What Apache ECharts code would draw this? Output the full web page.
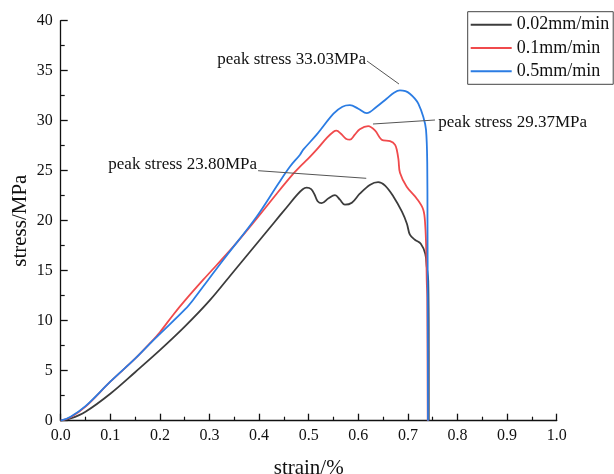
<!DOCTYPE html>
<html>
<head>
<meta charset="utf-8">
<script src="https://cdn.jsdelivr.net/npm/echarts@6/dist/echarts.min.js"></script>
<style>html,body{margin:0;padding:0;background:#fff}#c{width:614px;height:474px}</style>
</head>
<body>
<div id="c"></div>
<script>
var seriesNames = ['0.02mm/min', '0.1mm/min', '0.5mm/min'];
var seriesColors = ['#3c3c3c', '#f04a4c', '#2b7ce3'];
var xTicks = [0, 0.1, 0.2, 0.3, 0.4, 0.5, 0.6, 0.7, 0.8, 0.9, 1.0];
var yTicks = [0, 5, 10, 15, 20, 25, 30, 35, 40];

var s002 = [[0,0],[0.02,0.22],[0.05,0.9],[0.1,2.7],[0.15,4.85],[0.2,7.05],[0.25,9.4],[0.3,12.0],[0.35,15.0],[0.4,18.0],[0.43,19.8],[0.455,21.3],[0.476,22.55],[0.488,23.15],[0.496,23.3],[0.505,23.15],[0.512,22.6],[0.518,21.95],[0.526,21.75],[0.54,22.25],[0.553,22.55],[0.563,22.1],[0.573,21.6],[0.587,21.8],[0.603,22.7],[0.624,23.6],[0.64,23.85],[0.654,23.5],[0.671,22.4],[0.688,20.9],[0.698,19.7],[0.704,18.6],[0.714,18.1],[0.726,17.7],[0.735,16.7],[0.738,15.4],[0.741,14.0],[0.742,7],[0.742,0]];
var s01 = [[0,0],[0.02,0.35],[0.05,1.4],[0.1,3.9],[0.15,6.2],[0.18,7.75],[0.2,8.85],[0.227,10.6],[0.252,12.1],[0.2875,14.1],[0.348,17.4],[0.395,20.2],[0.4355,22.7],[0.469,24.7],[0.4825,25.4],[0.499,26.2],[0.516,27.1],[0.537,28.3],[0.55,28.9],[0.556,29.0],[0.565,28.7],[0.575,28.2],[0.583,28.1],[0.593,28.6],[0.603,29.15],[0.62,29.45],[0.634,29.0],[0.647,28.1],[0.664,27.95],[0.674,27.6],[0.678,27.0],[0.681,26.1],[0.684,24.8],[0.6976,23.4],[0.718,22.2],[0.731,21.1],[0.735,19.5],[0.737,17],[0.738,14.0],[0.739,12.3],[0.74,0]];
var s05 = [[0,0],[0.02,0.4],[0.05,1.45],[0.1,3.9],[0.15,6.2],[0.187,8.05],[0.2016,8.75],[0.252,11.2],[0.2673,12.1],[0.2976,14.1],[0.328,16.1],[0.395,20.4],[0.4387,23.7],[0.462,25.4],[0.4825,26.6],[0.489,27.1],[0.516,28.6],[0.55,30.7],[0.568,31.4],[0.583,31.55],[0.6,31.2],[0.617,30.75],[0.637,31.4],[0.657,32.2],[0.672,32.8],[0.684,33.03],[0.695,32.95],[0.704,32.7],[0.714,32.2],[0.721,31.7],[0.731,30.4],[0.7365,29.1],[0.739,25.7],[0.7395,20],[0.740,12],[0.7405,0]];

var annTexts = ['peak stress 33.03MPa', 'peak stress 29.37MPa', 'peak stress 23.80MPa'];
var annLines = [
  [[0.6175, 35.97], [0.682, 33.67]],
  [[0.6296, 29.67], [0.7546, 30.07]],
  [[0.398, 25.0], [0.616, 24.24]]
];

var font = "'Liberation Serif', 'Times New Roman', serif";
var chart = echarts.init(document.getElementById('c'));
var data = [s002, s01, s05];

var option = {
  animation: false,
  backgroundColor: '#fff',
  grid: { left: 60.7, right: 57.3, top: 20.7, bottom: 53.3, containLabel: false, outerBoundsMode: 'none' },
  legend: {
    orient: 'vertical',
    left: 467.7, top: 11.7,
    padding: [4, 4, 4, 3],
    icon: 'rect',
    itemWidth: 41, itemHeight: 2, itemGap: 5.3,
    borderColor: '#444', borderWidth: 1,
    textStyle: { fontFamily: font, fontSize: 18, color: '#111', lineHeight: 18 },
    data: seriesNames
  },
  xAxis: {
    type: 'value', min: 0, max: 1, interval: 0.1,
    name: 'strain/%', nameLocation: 'middle', nameGap: 37, nameMoveOverlap: false,
    nameTextStyle: { fontFamily: font, fontSize: 21, color: '#111' },
    axisLine: { show: true, lineStyle: { color: '#111', width: 1.3 } },
    axisTick: { show: true, inside: true, length: 7, lineStyle: { color: '#111', width: 1.3 } },
    minorTick: { show: true, splitNumber: 2, length: 4, lineStyle: { color: '#111', width: 1.2 } },
    splitLine: { show: false },
    axisLabel: { fontFamily: font, fontSize: 16, color: '#111', margin: 7,
      formatter: function (v) { return v.toFixed(1); } }
  },
  yAxis: {
    type: 'value', min: 0, max: 40, interval: 5,
    name: 'stress/MPa', nameLocation: 'middle', nameGap: 30, nameRotate: 90, nameMoveOverlap: false,
    nameTextStyle: { fontFamily: font, fontSize: 21, color: '#111' },
    axisLine: { show: true, lineStyle: { color: '#111', width: 1.3 } },
    axisTick: { show: true, inside: true, length: 7, lineStyle: { color: '#111', width: 1.3 } },
    minorTick: { show: true, splitNumber: 2, length: 4, lineStyle: { color: '#111', width: 1.2 } },
    splitLine: { show: false },
    axisLabel: { fontFamily: font, fontSize: 16, color: '#111', margin: 8 }
  },
  series: seriesNames.map(function (n, i) {
    return {
      name: n, type: 'line', data: data[i], symbol: 'none', showSymbol: false,
      smooth: 0.35,
      lineStyle: { color: seriesColors[i], width: 1.8 },
      itemStyle: { color: seriesColors[i] },
      z: 2 + i
    };
  })
};
chart.setOption(option);

var textPos = [[217.3, 60], [438.3, 122.7], [108.3, 165]];
var graphics = [];
annLines.forEach(function (seg, i) {
  var p1 = chart.convertToPixel({ gridIndex: 0 }, seg[0]);
  var p2 = chart.convertToPixel({ gridIndex: 0 }, seg[1]);
  graphics.push({ type: 'line', shape: { x1: p1[0], y1: p1[1], x2: p2[0], y2: p2[1] },
    style: { stroke: '#555', lineWidth: 1 }, z: 10 });
});
annTexts.forEach(function (t, i) {
  graphics.push({ type: 'text', x: textPos[i][0], y: textPos[i][1], z: 11,
    style: { text: t, font: '17px ' + font, fill: '#111', textVerticalAlign: 'middle', verticalAlign: 'middle' } });
});
chart.setOption({ graphic: graphics });
</script>
</body>
</html>
